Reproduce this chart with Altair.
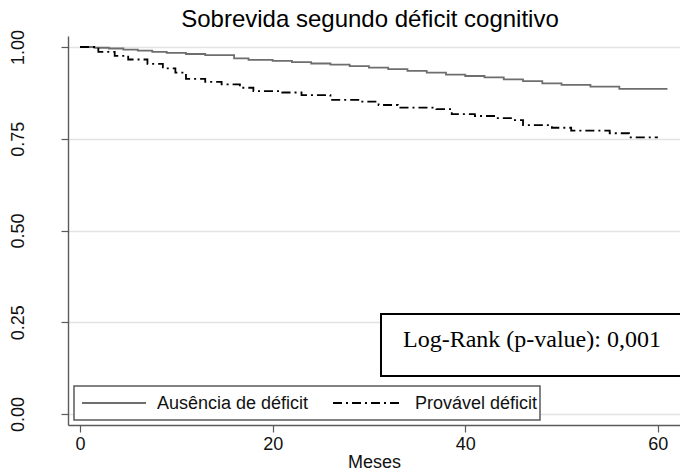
import altair as alt
import pandas as pd

# Kaplan-Meier estimates (months, survival) for each group
sem_deficit_t = [0, 1.5, 3, 4.5, 6, 7.5, 9, 11, 13, 16, 17.5, 20, 22, 24, 26, 28, 30,
                 32, 34, 36, 38, 40, 42, 44, 46, 48, 50, 53, 56, 61]
sem_deficit_s = [1.000, 0.998, 0.996, 0.993, 0.990, 0.987, 0.984, 0.981, 0.978, 0.969,
                 0.965, 0.962, 0.959, 0.955, 0.952, 0.948, 0.944, 0.940, 0.935, 0.930,
                 0.925, 0.921, 0.917, 0.912, 0.907, 0.901, 0.897, 0.892, 0.886, 0.886]

com_deficit_t = [0, 1.9, 3.6, 5, 7, 8.6, 9.9, 11, 13, 14.7, 16.6, 18, 21, 23, 26, 29,
                 31, 33, 37, 38.6, 41, 43, 45, 46, 49, 51, 55, 57, 60]
com_deficit_s = [1.000, 0.987, 0.976, 0.966, 0.954, 0.942, 0.930, 0.913, 0.905, 0.898,
                 0.889, 0.880, 0.876, 0.869, 0.856, 0.851, 0.842, 0.835, 0.831, 0.817,
                 0.812, 0.806, 0.801, 0.787, 0.780, 0.772, 0.765, 0.754, 0.754]

grupos = ["Ausência de déficit", "Provável déficit"]
x_ticks = [0, 20, 40, 60]
y_ticks = [0, 0.25, 0.5, 0.75, 1.0]
titulo = "Sobrevida segundo déficit cognitivo"
eixo_x = "Meses"
nota = "Log-Rank (p-value): 0,001"

df_a = pd.DataFrame({"meses": sem_deficit_t, "sobrevida": sem_deficit_s, "grupo": grupos[0]})
df_b = pd.DataFrame({"meses": com_deficit_t, "sobrevida": com_deficit_s, "grupo": grupos[1]})

SANS = "Liberation Sans"
SERIF = "Liberation Serif"
AXIS_COLOR = "#5a5a5a"
FS = 18

x_enc = alt.X("meses:Q", scale=alt.Scale(domain=[-1.25, 62.3], nice=False, zero=False),
              axis=alt.Axis(values=x_ticks, title=eixo_x, grid=False, tickSize=7,
                            labelFontSize=FS, titleFontSize=FS, labelPadding=3,
                            titlePadding=0, titleFontWeight="normal"))
y_enc = alt.Y("sobrevida:Q", scale=alt.Scale(domain=[-0.03, 1.03], nice=False, zero=False),
              axis=alt.Axis(values=y_ticks, format=".2f", title=None, grid=True,
                            gridColor="#e3e3e3", gridWidth=1.3, tickSize=7,
                            labelAngle=270, labelAlign="center", labelBaseline="bottom",
                            labelFontSize=FS, labelPadding=34))

linha_a = alt.Chart(df_a).mark_line(interpolate="step-after", color="#6e6e6e",
                                    strokeWidth=1.8).encode(x=x_enc, y=y_enc)
linha_b = alt.Chart(df_b).mark_line(interpolate="step-after", color="#000000",
                                    strokeWidth=1.8, strokeDash=[9, 4, 2, 4]).encode(x=x_enc, y=y_enc)

# legend box drawn inside the plot region
base = alt.Chart(pd.DataFrame({"k": [0]}))
leg_box = base.mark_rect(fill="white", stroke=AXIS_COLOR, strokeWidth=1.5).encode(
    x=alt.value(6), x2=alt.value(472), y=alt.value(350), y2=alt.value(384))
leg_a = base.mark_rule(color="#6e6e6e", strokeWidth=1.8).encode(
    x=alt.value(14), x2=alt.value(78), y=alt.value(367))
leg_b = base.mark_rule(color="#000000", strokeWidth=1.8, strokeDash=[9, 4, 2, 4]).encode(
    x=alt.value(265), x2=alt.value(334), y=alt.value(367))
leg_ta = base.mark_text(align="left", baseline="middle", font=SANS, fontSize=FS,
                        color="#111").encode(x=alt.value(89), y=alt.value(368),
                                             text=alt.value(grupos[0]))
leg_tb = base.mark_text(align="left", baseline="middle", font=SANS, fontSize=FS,
                        color="#111").encode(x=alt.value(347), y=alt.value(368),
                                             text=alt.value(grupos[1]))

# log-rank annotation
nota_box = base.mark_rect(fill="white", stroke="#000", strokeWidth=2).encode(
    x=alt.value(313), x2=alt.value(640), y=alt.value(278), y2=alt.value(340))
nota_txt = base.mark_text(align="left", baseline="middle", font=SERIF, fontSize=24,
                          color="#000").encode(x=alt.value(335), y=alt.value(304),
                                               text=alt.value(nota))

chart = alt.layer(linha_a, linha_b, nota_box, nota_txt, leg_box, leg_a, leg_b, leg_ta, leg_tb).properties(
    width=612, height=389,
    title=alt.TitleParams(titulo, anchor="middle", font=SANS, fontSize=24,
                          fontWeight="normal", color="#000", offset=-3, dx=-4),
    autosize=alt.AutoSizeParams(type="none"),
    padding={"left": 68, "top": 36, "right": 0, "bottom": 50},
).configure_view(stroke=None).configure_axis(
    domainColor=AXIS_COLOR, domainWidth=1.4, tickColor=AXIS_COLOR, tickWidth=1.2,
    labelFont=SANS, titleFont=SANS, labelColor="#111", titleColor="#111",
)

chart.save("out.html", embed_options={"renderer": "svg", "actions": False})
